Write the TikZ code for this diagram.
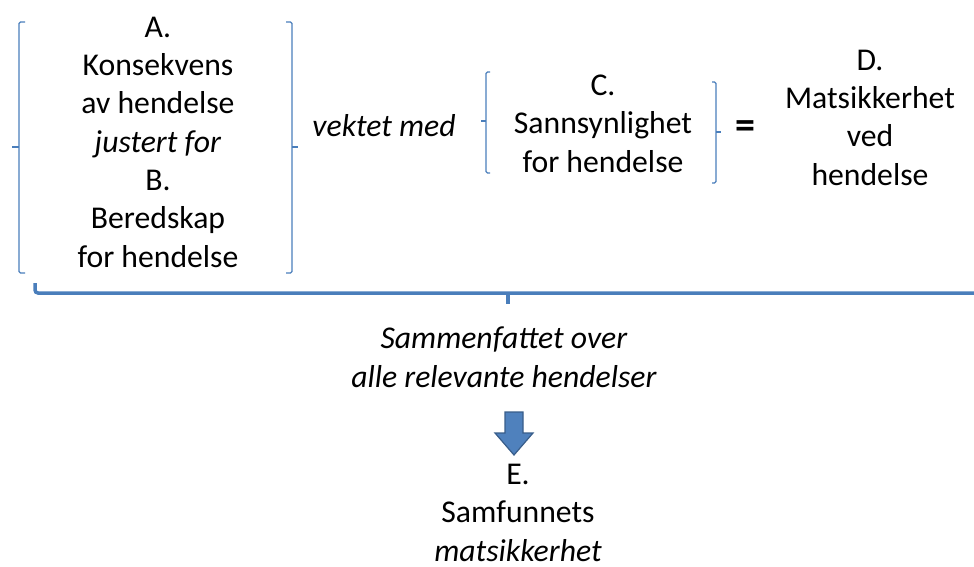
\documentclass[tikz,border=0pt]{standalone}
\usepackage{fontspec}
\setmainfont{Carlito}
\definecolor{bracketblue}{HTML}{4A7EBB}
\definecolor{arrowblue}{HTML}{4F81BD}
\definecolor{arrowdark}{HTML}{385D8A}
\tikzset{
  bracket/.style={draw=bracketblue, line width=1.3pt, rounded corners=1.5pt},
  sumbrace/.style={draw=bracketblue, line width=3.5pt, rounded corners=3pt},
  txt/.style={align=center, inner sep=0pt, anchor=base,
    font=\fontsize{31.7}{38.3}\selectfont}
}

\begin{document}
\begin{tikzpicture}[x=1pt, y=-1pt]

	\useasboundingbox (0,0) rectangle (974,567);

	% texts (base = last line)
	\node[txt] (AB) at (158,267) {A.\\Konsekvens\\av hendelse\\\textit{justert for}\\B.\\Beredskap\\for hendelse};
	\node[txt] (vekt) at (384,137) {\textit{vektet med}};
	\node[txt] (C) at (603,172) {C.\\Sannsynlighet\\for hendelse};
	\node[txt, anchor=center, font=\fontsize{40}{40}\selectfont] (eq) at (745,130) {\textbf{=}};
	\node[txt] (D) at (870,185) {D.\\Matsikkerhet\\ved\\hendelse};
	\node[txt] (sum) at (504,387) {\textit{Sammenfattet over}\\\textit{alle relevante hendelser}};
	\node[txt] (E) at (518,561) {E.\\Samfunnets\\\textit{matsikkerhet}};

	% brackets round A and B
	\draw[bracket] (25,22) -- (19,22) -- (19,273) -- (25,273);
	\draw[bracket] (19,147) -- (12,147);
	\draw[bracket] (286,22) -- (292,22) -- (292,273) -- (286,273);
	\draw[bracket] (292,147) -- (298,147);

	% brackets round C
	\draw[bracket] (490,72) -- (486,72) -- (486,173) -- (490,173);
	\draw[bracket] (486,121) -- (481,121);
	\draw[bracket] (712,82) -- (716,82) -- (716,183) -- (712,183);
	\draw[bracket] (716,132) -- (721,132);

	% brace over all events
	\draw[sumbrace] (35,283) -- (35,293) -- (976,293);
	\draw[bracketblue, line width=3.5pt] (508,293) -- (508,304);

	% block arrow
	\filldraw[fill=arrowblue, draw=arrowdark, line width=1.2pt, line join=miter]
		(505,412) -- (523,412) -- (523,433) -- (533,433) -- (514,455)
		-- (495,433) -- (505,433) -- cycle;

\end{tikzpicture}
\end{document}
